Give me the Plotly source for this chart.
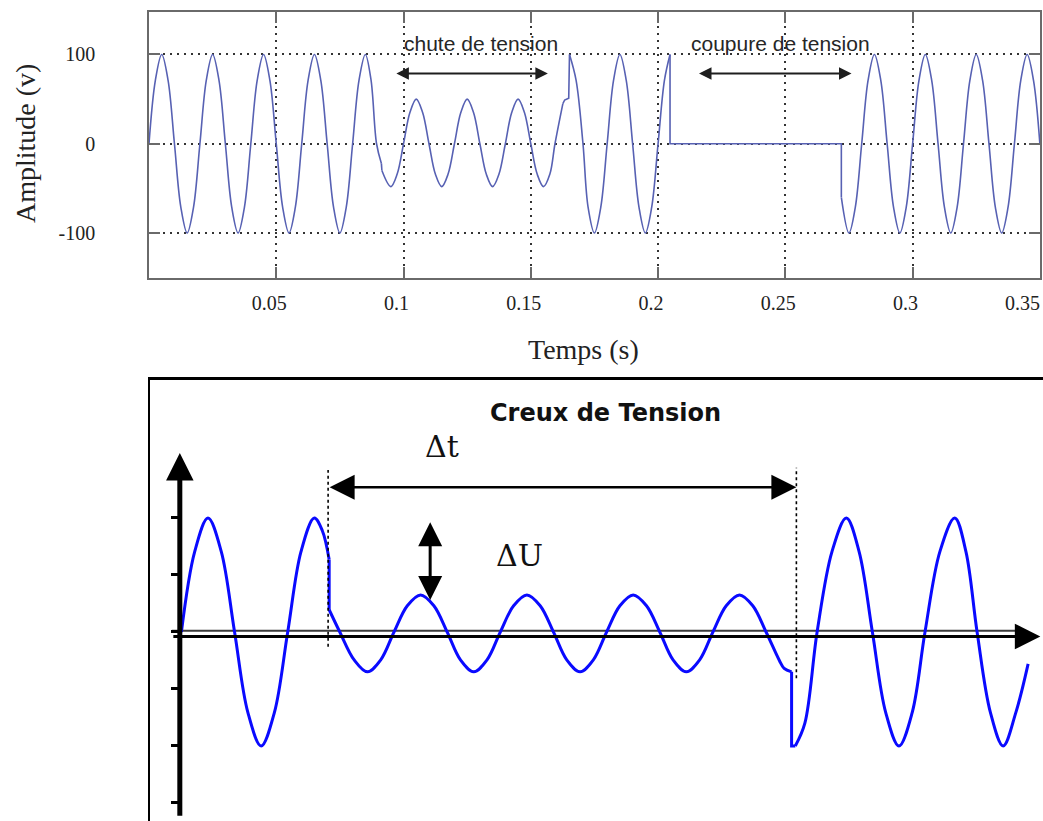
import plotly.graph_objects as go

# ---------------- upper panel: voltage (V) against time (s) ----------------
# each continuous stretch of the recorded trace: times and amplitudes
pre_t = [0, .0025, .005, .0075, .01, .0125, .015, .0175, .02, .0225, .025, .0275,
         .03, .0325, .035, .0375, .04, .0425, .045, .0475, .05, .0525, .055, .0575,
         .06, .0625, .065, .0675, .07, .0725, .075, .0775, .08, .0825, .085, .0872,
         .0894, .0913]
pre_v = [0, 71, 100, 71, 0, -71, -100, -71, 0, 71, 100, 71,
         0, -71, -100, -71, 0, 71, 100, 71, 0, -71, -100, -71,
         0, 71, 100, 71, 0, -71, -100, -71, 0, 71, 100, 72,
         0, -22]
notch_t = [.0913, .0915]
notch_v = [-22, -30]
sag_t = [.0915, .095, .0975, .1, .1025, .105, .1075, .11, .1125, .115, .1175,
         .12, .1225, .125, .1275, .13, .1325, .135, .1375, .14, .1425, .145,
         .1475, .15, .1525, .155, .1575, .1595, .1626]
sag_v = [-30, -48, -34, 0, 35, 50, 35, 0, -34, -48, -34,
         0, 35, 50, 35, 0, -34, -48, -34, 0, 35, 50,
         35, 0, -34, -48, -34, 0, 45]
rec_t = [.1626, .1633, .1649, .1652]
rec_v = [45, 49, 51, 100]
mid_t = [.1652, .1678, .1705, .1725, .175, .1775, .18, .1825, .185, .1875,
         .19, .1925, .195, .1975, .2, .2025, .2047]
mid_v = [100, 71, 0, -71, -100, -71, 0, 71, 100, 71,
         0, -71, -100, -71, 0, 71, 100]
cut_t = [.2047, .2047, .272, .272]
cut_v = [100, 0, 0, -60]
post_t = [.272, .275, .2775, .28, .2825, .285, .2875, .29, .2925, .295, .2975,
          .3, .3025, .305, .3075, .31, .3125, .315, .3175, .32, .3225, .325,
          .3275, .33, .3325, .335, .3375, .34, .3425, .345, .3475, .35]
post_v = [-60, -100, -71, 0, 71, 100, 71, 0, -71, -100, -71,
          0, 71, 100, 71, 0, -71, -100, -71, 0, 71, 100,
          71, 0, -71, -100, -71, 0, 71, 100, 71, 0]

x_ticks = [0.05, 0.1, 0.15, 0.2, 0.25, 0.3, 0.35]
x_tick_text = ["0.05", "0.1", "0.15", "0.2", "0.25", "0.3", ""]
last_tick, last_tick_text = 0.35, "0.35"   # sits on the frame edge, placed by hand
y_ticks = [-100, 0, 100]
y_tick_text = ["-100", "0", "100"]

# event spans marked with double arrows (s) and their labels
drop_span = [0.0966, 0.1567]
cut_span = [0.2155, 0.276]
span_level = 78.6
label_level = 112

# ---------------- lower panel: schematic voltage dip ----------------
# time in ms, amplitude in grid units
b_pre_t = [0, 2.5, 5, 7.5, 10, 12.5, 15, 17.5, 20, 22.5, 25, 26.5, 27.8]
b_pre_v = [0, 1.41, 2, 1.41, 0, -1.41, -2, -1.41, 0, 1.41, 2, 1.78, 1.27]
b_step_t = [27.8, 27.8]
b_step_v = [1.27, 0.39]
b_dip_t = [27.8, 29.8, 32.5, 35, 37.5, 40, 42.5, 45, 47.5, 50, 52.5, 55, 57.5,
           60, 62.5, 65, 67.5, 70, 72.5, 75, 77.5, 80, 82.5, 85, 87.5, 90,
           92.5, 95, 97.5, 100, 102.5, 105, 107.5, 110, 112.5, 113.4, 114.8]
b_dip_v = [0.39, 0, -0.49, -0.7, -0.49, 0, 0.46, 0.65, 0.46, 0, -0.49, -0.7, -0.49,
           0, 0.46, 0.65, 0.46, 0, -0.49, -0.7, -0.49, 0, 0.46, 0.65, 0.46, 0,
           -0.49, -0.7, -0.49, 0, 0.46, 0.65, 0.46, 0, -0.5, -0.64, -0.7]
b_back_t = [114.8, 114.8, 115.5]
b_back_v = [-0.7, -2.0, -2.0]
b_post_t = [115.5, 117.3, 119.6, 122.4, 125.1, 127.5, 130, 132.5, 135, 137.5,
            139.9, 142.7, 145.5, 147.6, 149.7, 152.2, 154.6, 157, 159.3]
b_post_v = [-2, -1.6, 0, 1.41, 2, 1.41, 0, -1.41, -2, -1.41,
            0, 1.41, 2, 1.41, 0, -1.41, -2, -1.41, -0.56]

b_ticks = [-3, -2, -1, 0, 1, 2]
dip_start, dip_end = 27.6, 115.7
dt_level = 2.54
du_x, du_top, du_bottom = 46.8, 1.95, 0.56

W, H = 1043, 821
TOP_COLOR = "#5761b3"
LOW_COLOR = "#0a0aff"

fig = go.Figure()


def add_piece(t, v, xa, ya, color, width, shape):
    line = dict(color=color, width=width, shape=shape)
    if shape == "spline":
        line["smoothing"] = 1.0
    fig.add_trace(go.Scatter(x=t, y=v, xaxis=xa, yaxis=ya, mode="lines", line=line,
                             hoverinfo="skip", showlegend=False))


for t, v, shp in [(pre_t, pre_v, "spline"), (notch_t, notch_v, "linear"),
                  (sag_t, sag_v, "spline"), (rec_t, rec_v, "linear"),
                  (mid_t, mid_v, "spline"), (cut_t, cut_v, "linear"),
                  (post_t, post_v, "spline")]:
    add_piece(t, v, "x", "y", TOP_COLOR, 1.6, shp)

for t, v, shp in [(b_pre_t, b_pre_v, "spline"), (b_step_t, b_step_v, "linear"),
                  (b_dip_t, b_dip_v, "spline"), (b_back_t, b_back_v, "linear"),
                  (b_post_t, b_post_v, "spline")]:
    add_piece(t, v, "x2", "y2", LOW_COLOR, 3, shp)

# carrier for the tick-only axis on the schematic's vertical arrow
fig.add_trace(go.Scatter(x=[0], y=[0], xaxis="x2", yaxis="y3", mode="markers",
                         marker=dict(opacity=0), hoverinfo="skip", showlegend=False))

serif = "Liberation Serif, Times New Roman, serif"
sans = "Liberation Sans, Arial, sans-serif"
C = dict(xanchor="center", yanchor="middle")

annotations = [
    # last time label, kept inside the page
    dict(x=last_tick, y=1 - 303 / H, xref="x", yref="paper", text=last_tick_text,
         xshift=-17, showarrow=False, font=dict(family=serif, size=20, color="#222"), **C),
    # upper panel labels and spans
    dict(x=0.1304, y=label_level, xref="x", yref="y", text="chute de tension",
         showarrow=False, font=dict(family=sans, size=21, color="#262626"), **C),
    dict(x=0.248, y=label_level, xref="x", yref="y", text="coupure de tension",
         showarrow=False, font=dict(family=sans, size=21, color="#262626"), **C),
    dict(x=drop_span[1], y=span_level, ax=drop_span[0], ay=span_level,
         xref="x", yref="y", axref="x", ayref="y", text="", showarrow=True,
         arrowside="end+start", arrowhead=2, startarrowhead=2,
         arrowsize=1.25, startarrowsize=1.25, arrowwidth=2, arrowcolor="#1e1e1e"),
    dict(x=cut_span[1], y=span_level, ax=cut_span[0], ay=span_level,
         xref="x", yref="y", axref="x", ayref="y", text="", showarrow=True,
         arrowside="end+start", arrowhead=2, startarrowhead=2,
         arrowsize=1.25, startarrowsize=1.25, arrowwidth=2, arrowcolor="#1e1e1e"),
    dict(x=25 / W, y=1 - 144 / H, xref="paper", yref="paper", text="Amplitude (v)",
         textangle=-90, showarrow=False, font=dict(family=serif, size=28, color="#222"), **C),
    dict(x=583 / W, y=1 - 350 / H, xref="paper", yref="paper", text="Temps (s)",
         showarrow=False, font=dict(family=serif, size=28, color="#222"), **C),
    # lower panel
    dict(x=605 / W, y=1 - 413 / H, xref="paper", yref="paper", text="<b>Creux de Tension</b>",
         showarrow=False, font=dict(family="DejaVu Sans, sans-serif", size=24, color="#111"), **C),
    dict(x=49.0, y=3.25, xref="x2", yref="y2", text="\u0394t", showarrow=False,
         font=dict(family="DejaVu Serif, serif", size=30, color="#111"), **C),
    dict(x=63.7, y=1.35, xref="x2", yref="y2", text="\u0394U", showarrow=False,
         font=dict(family="DejaVu Serif, serif", size=30, color="#111"), **C),
    # axis arrows of the schematic
    dict(x=-0.3, y=3.14, ax=-0.3, ay=-3.25, xref="x2", yref="y2", axref="x2", ayref="y2",
         text="", showarrow=True, arrowhead=2, arrowsize=1.1, arrowwidth=5, arrowcolor="black"),
    dict(x=161.6, y=-0.08, ax=-1.8, ay=-0.08, xref="x2", yref="y2", axref="x2", ayref="y2",
         text="", showarrow=True, arrowhead=2, arrowsize=1.7, arrowwidth=3, arrowcolor="black"),
    # dip duration and depth
    dict(x=dip_end, y=dt_level, ax=dip_start, ay=dt_level, xref="x2", yref="y2",
         axref="x2", ayref="y2", text="", showarrow=True, arrowside="end+start",
         arrowhead=2, startarrowhead=2, arrowsize=2.0, startarrowsize=2.0,
         arrowwidth=2.5, arrowcolor="black"),
    dict(x=du_x, y=du_bottom, ax=du_x, ay=du_top, xref="x2", yref="y2",
         axref="x2", ayref="y2", text="", showarrow=True, arrowside="end+start",
         arrowhead=2, startarrowhead=2, arrowsize=1.6, startarrowsize=1.6,
         arrowwidth=3, arrowcolor="black"),
]

shapes = [
    dict(type="line", xref="x2", yref="y2", x0=-1.8, x1=157, y0=0.02, y1=0.02,
         line=dict(color="#3a3a3a", width=2), layer="below"),
    dict(type="line", xref="x2", yref="y2", x0=dip_start, x1=dip_start, y0=-0.26, y1=2.84,
         line=dict(color="black", width=1.6, dash="dot")),
    dict(type="line", xref="x2", yref="y2", x0=dip_end, x1=dip_end, y0=-0.81, y1=2.88,
         line=dict(color="black", width=1.6, dash="dot")),
]

grid = dict(showgrid=True, gridcolor="#333333", gridwidth=1.7, griddash="2px,5px",
            zeroline=False, showline=True, linecolor="#6a6a6a", linewidth=1.5,
            mirror="ticks", ticks="inside", ticklen=11, tickwidth=1.5, tickcolor="#6a6a6a",
            tickfont=dict(family=serif, size=20, color="#222"))

fig.update_layout(
    width=W, height=H, margin=dict(l=0, r=0, t=0, b=0),
    paper_bgcolor="white", plot_bgcolor="white",
    xaxis=dict(domain=[149 / W, 1040 / W], range=[0, 0.35005], anchor="y",
               tickvals=x_ticks, ticktext=x_tick_text, ticklabelstandoff=6,
               ticklabelshift=-7, **grid),
    yaxis=dict(domain=[1 - 278 / H, 1 - 12 / H], range=[-150.4, 147.6], anchor="x",
               tickvals=y_ticks, ticktext=y_tick_text, ticklabelstandoff=48, **grid),
    xaxis2=dict(domain=[150 / W, 1], range=[-5.91, 162.1], anchor="y2", side="top",
                showline=True, linecolor="black", linewidth=3, showgrid=False,
                zeroline=False, ticks="", showticklabels=False),
    yaxis2=dict(domain=[0, 1 - 380 / H], range=[-3.316, 4.42], anchor="x2",
                showline=True, linecolor="black", linewidth=2, showgrid=False,
                zeroline=False, ticks="", showticklabels=False),
    yaxis3=dict(overlaying="y2", anchor="free", position=179 / W, side="left",
                range=[-3.316, 4.42], tickvals=b_ticks, ticks="outside", ticklen=8,
                tickwidth=2.5, tickcolor="black", showticklabels=False,
                showgrid=False, zeroline=False, showline=False),
    annotations=annotations, shapes=shapes,
)

fig.write_html("out.html")
